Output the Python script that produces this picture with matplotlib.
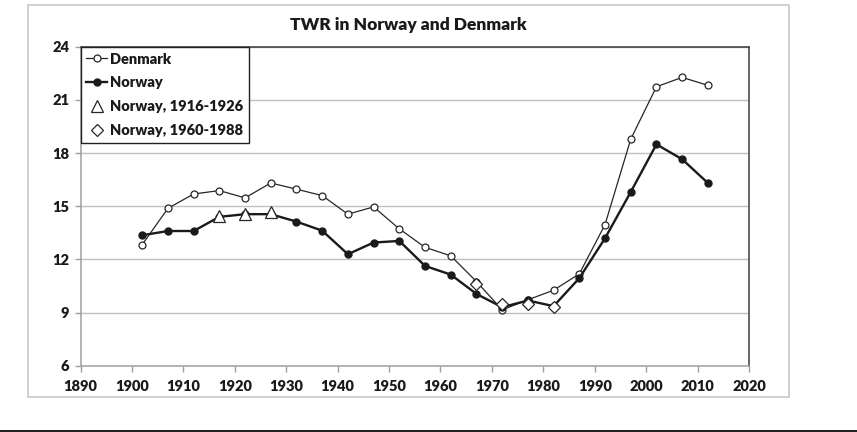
import numpy as np
import matplotlib
matplotlib.use("Agg")
from matplotlib import pyplot as plt
from matplotlib.patches import Rectangle
from matplotlib.lines import Line2D

plt.rcParams['font.family'] = ['Lato', 'DejaVu Sans']
plt.rcParams['font.weight'] = 'heavy'

##############################################
# Data
##############################################
years = [1902, 1907, 1912, 1917, 1922, 1927, 1932, 1937, 1942, 1947, 1952, 1957,
         1962, 1967, 1972, 1977, 1982, 1987, 1992, 1997, 2002, 2007, 2012]
denmark = [12.83, 14.88, 15.69, 15.88, 15.47, 16.31, 15.96, 15.6, 14.55, 14.96, 13.72, 12.68,
           12.2, 10.75, 9.15, 9.72, 10.26, 11.18, 13.96, 18.78, 21.74, 22.27, 21.82]
norway = [13.36, 13.6, 13.6, 14.4, 14.55, 14.55, 14.13, 13.62, 12.29, 12.95, 13.04, 11.63,
          11.14, 10.05, 9.3, 9.68, 9.36, 10.94, 13.19, 15.8, 18.49, 17.65, 16.31]
years_1916 = [1917, 1922, 1927]
norway_1916 = [14.45, 14.55, 14.65]
years_1960 = [1967, 1972, 1977, 1982]
norway_1960 = [10.62, 9.47, 9.49, 9.33]

xticks = list(range(1890, 2021, 10))
yticks = list(range(6, 25, 3))

##############################################
# Plot
##############################################
fig = plt.figure(figsize=(8.57, 4.32), dpi=100)
W, H = 857, 432

# outer chart frame and bottom rule
fig.patches.append(Rectangle((28 / W, 1 - 397 / H), (789 - 28) / W, (397 - 5) / H,
                             transform=fig.transFigure, fill=False,
                             edgecolor='#c8c8c8', linewidth=1.2))
fig.lines.append(Line2D([0, 1], [1 - 430.5 / H] * 2, transform=fig.transFigure,
                        color='#222222', linewidth=2.2))

ax = fig.add_axes([80.5 / W, 1 - 365.7 / H, (749 - 80.5) / W, (365.7 - 46.7) / H])

dark = '#262626'
ax.plot(years, denmark, '-o', color=dark, linewidth=0.9, markersize=5,
        markerfacecolor='white', markeredgewidth=0.9, label='Denmark', zorder=3)
ax.plot(years, norway, '-o', color='#1a1a1a', linewidth=1.7, markersize=5,
        markerfacecolor='#1a1a1a', label='Norway', zorder=4)
ax.plot(years_1916, norway_1916, '^', color=dark, markersize=8,
        markerfacecolor='white', markeredgewidth=0.9, linestyle='none',
        label='Norway, 1916-1926', zorder=5)
ax.plot(years_1960, norway_1960, 'D', color=dark, markersize=6.5,
        markerfacecolor='white', markeredgewidth=0.9, linestyle='none',
        label='Norway, 1960-1988', zorder=5)

ax.set_xlim(1890, 2020)
ax.set_ylim(6, 24)
ax.set_xticks(xticks)
ax.set_yticks(yticks)
ax.tick_params(axis='both', direction='out', length=4, width=1, color='#a0a0a0',
               labelsize=10.5, labelcolor='#1a1a1a', pad=4)
ax.tick_params(axis='x', pad=6)
for lab in ax.get_xticklabels() + ax.get_yticklabels():
    lab.set_fontweight('heavy')

ax.yaxis.grid(True, color='#c0c0c0', linewidth=1)
ax.set_axisbelow(True)
for side in ['left', 'bottom']:
    ax.spines[side].set_color('#a0a0a0')
    ax.spines[side].set_linewidth(1.1)
for side in ['top', 'right']:
    ax.spines[side].set_color('#3a3a3a')
    ax.spines[side].set_linewidth(1.1)

fig.text(408.5 / W, 1 - 25 / H, 'TWR in Norway and Denmark', ha='center', va='center',
         fontsize=12.6, fontweight='heavy', color='#1a1a1a')

leg = ax.legend(loc='upper left', borderaxespad=0, fancybox=False, framealpha=1,
                edgecolor='#222222', fontsize=10.5, handlelength=1.4,
                handletextpad=0.2, labelspacing=0.75, borderpad=0.4)
leg.get_frame().set_linewidth(1.0)
for t in leg.get_texts():
    t.set_fontweight('heavy')
    t.set_color('#1a1a1a')

fig.savefig('out.png', dpi=100)
